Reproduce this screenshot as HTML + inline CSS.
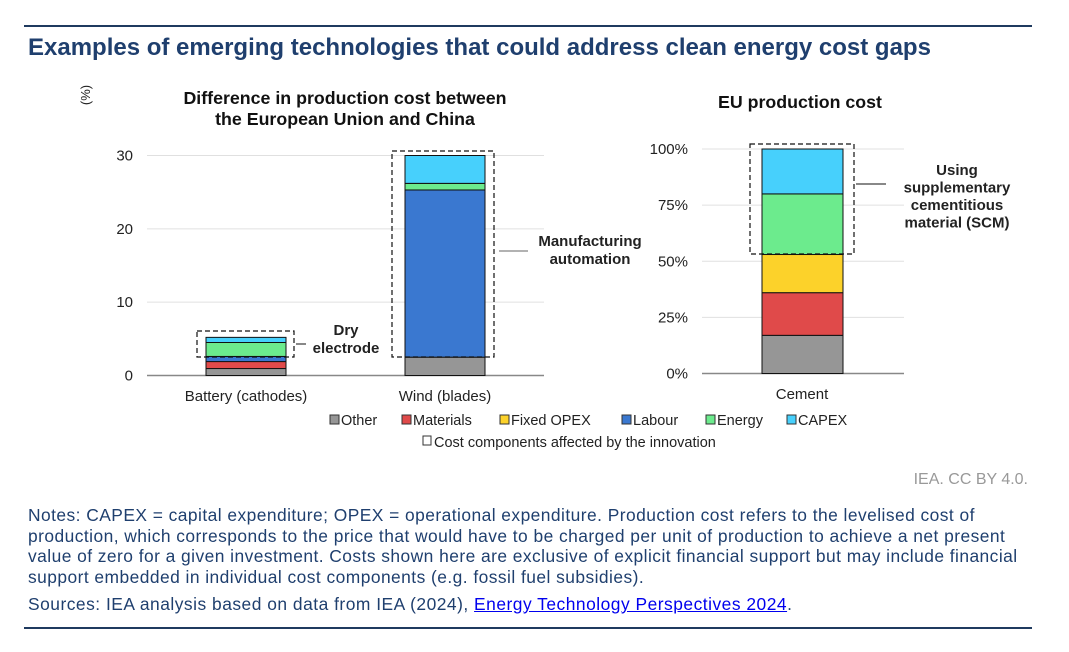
<!DOCTYPE html>
<html><head><meta charset="utf-8"><style>
body{margin:0;background:#fff;font-family:"Liberation Sans",Arial,sans-serif;}
#wrap{position:relative;width:1069px;height:652px;overflow:hidden;}
.t{position:absolute;white-space:nowrap;}
</style></head><body>
<div id="wrap">
<div style="position:absolute;left:24px;top:25px;width:1008px;height:2px;background:#1f3a5f"></div>
<div class="t" style="left:28px;top:34px;font-size:24px;font-weight:bold;color:#1f3f6e">Examples of emerging technologies that could address clean energy cost gaps</div>
<svg id="chart" width="1069" height="470" style="position:absolute;left:0;top:0" font-family="Liberation Sans, Arial, sans-serif"></svg>
<div class="t" style="right:41px;top:471px;font-size:16px;color:#999">IEA. CC BY 4.0.</div>
<div style="position:absolute;left:28px;top:505px;width:990px;font-size:17.4px;letter-spacing:0.45px;line-height:20.5px;color:#1f3f6e">Notes: CAPEX = capital expenditure; OPEX = operational expenditure. Production cost refers to the levelised cost of production, which corresponds to the price that would have to be charged per unit of production to achieve a net present value of zero for a given investment. Costs shown here are exclusive of explicit financial support but may include financial support embedded in individual cost components (e.g. fossil fuel subsidies).</div>
<div class="t" style="left:28px;top:594px;font-size:17.4px;letter-spacing:0.5px;color:#1f3f6e">Sources: IEA analysis based on data from IEA (2024), <span style="color:#0000ee;text-decoration:underline">Energy Technology Perspectives 2024</span>.</div>
<div style="position:absolute;left:24px;top:627px;width:1008px;height:2px;background:#1f3a5f"></div>
</div>
<script>
const components=["Other","Materials","Fixed OPEX","Labour","Energy","CAPEX"];
const colors=["#969696","#e04a4a","#fcd22a","#3a78d0","#6ceb8d","#47d0fc"];
const leftCategories=["Battery (cathodes)","Wind (blades)"];
const batteryValues=[0.95,0.95,0,0.7,1.9,0.7];
const windValues=[2.5,0,0,22.8,0.9,3.8];
const leftTicks=[0,10,20,30];
const cementValues=[17,19,17,0,27,20];
const rightTicks=[0,25,50,75,100];

const svg=document.getElementById('chart');
const NS='http://www.w3.org/2000/svg';
function mk(tag,attrs,parent){const e=document.createElementNS(NS,tag);for(const k in attrs)e.setAttribute(k,attrs[k]);(parent||svg).appendChild(e);return e;}
function txt(s,x,y,attrs,name){const e=mk('text',Object.assign({x:x,y:y,'font-size':15,fill:'#222'},attrs));e.textContent=s;


return e;}

const lY=v=>375.5-v*(220/30);
leftTicks.forEach(v=>{
 const g=mk('line',{x1:147,x2:544,y1:lY(v),y2:lY(v),stroke:v===0?'#888':'#e0e0e0','stroke-width':v===0?1.5:1});
 
 
 txt(String(v),133,lY(v)+5,{'text-anchor':'end'},'left-y-tick');
});
const lBarX=[206,405],bw=80;
[batteryValues,windValues].forEach((vals,i)=>{
 let acc=0;
 vals.forEach((v,j)=>{ if(v<=0)return;
  const r=mk('rect',{x:lBarX[i],y:lY(acc+v),width:bw,height:lY(acc)-lY(acc+v),fill:colors[j],stroke:'#111','stroke-width':1});
  
  
  acc+=v;});
 txt(leftCategories[i],lBarX[i]+bw/2,401,{'text-anchor':'middle'},'left-x-label');
});
function dbox(x,y,w,h,name){const r=mk('rect',{x:x,y:y,width:w,height:h,fill:'none',stroke:'#111','stroke-dasharray':'5,3','stroke-width':1.2});

}
dbox(197,331,97,26,'battery-affected-box');
dbox(392,151,102,206,'wind-affected-box');
mk('line',{x1:296,x2:306,y1:344,y2:344,stroke:'#111'});
mk('line',{x1:499,x2:528,y1:251,y2:251,stroke:'#999','stroke-width':1.5});
txt('Dry',346,335,{'text-anchor':'middle','font-weight':'bold'},'battery-annotation');
txt('electrode',346,353,{'text-anchor':'middle','font-weight':'bold'},'battery-annotation');
txt('Manufacturing',590,246,{'text-anchor':'middle','font-weight':'bold'},'wind-annotation');
txt('automation',590,264,{'text-anchor':'middle','font-weight':'bold'},'wind-annotation');
txt('Difference in production cost between',345,104,{'text-anchor':'middle','font-weight':'bold','font-size':17.8,fill:'#111'},'left-chart-title');
txt('the European Union and China',345,125,{'text-anchor':'middle','font-weight':'bold','font-size':17.8,fill:'#111'},'left-chart-title');
txt('(%)',95,100,{'text-anchor':'middle','font-size':13,transform:'rotate(-90 90 100)'},'left-y-unit');

const rY=v=>373.5-v*(224.5/100);
rightTicks.forEach(v=>{
 const g=mk('line',{x1:702,x2:904,y1:rY(v),y2:rY(v),stroke:v===0?'#888':'#e0e0e0','stroke-width':v===0?1.5:1});
 
 
 txt(v+'%',688,rY(v)+5,{'text-anchor':'end'},'right-y-tick');
});
let acc=0;
cementValues.forEach((v,j)=>{ if(v<=0)return;
 const r=mk('rect',{x:762,y:rY(acc+v),width:81,height:rY(acc)-rY(acc+v),fill:colors[j],stroke:'#111','stroke-width':1});
 
 
 acc+=v;});
txt('Cement',802,399,{'text-anchor':'middle'},'right-x-label');
dbox(750,144,104,110,'cement-affected-box');
mk('line',{x1:856,x2:886,y1:184,y2:184,stroke:'#111'});
['Using','supplementary','cementitious','material (SCM)'].forEach((s,i)=>txt(s,957,175+i*17.5,{'text-anchor':'middle','font-weight':'bold'},'cement-annotation'));
txt('EU production cost',800,108,{'text-anchor':'middle','font-weight':'bold','font-size':17.8,fill:'#111'},'right-chart-title');

const legX=[330,402,500,622,706,787];
components.forEach((c,j)=>{
 const r=mk('rect',{x:legX[j],y:415,width:9,height:9,fill:colors[j],stroke:'#333','stroke-width':1});
 
 
 txt(c,legX[j]+11,425,{'font-size':14.5},'legend-entry');
});
const lb=mk('rect',{x:423,y:436,width:8,height:9,fill:'#fff',stroke:'#333','stroke-width':1});


txt('Cost components affected by the innovation',434,447,{'font-size':14.5},'legend-entry');
</script>
</body></html>
